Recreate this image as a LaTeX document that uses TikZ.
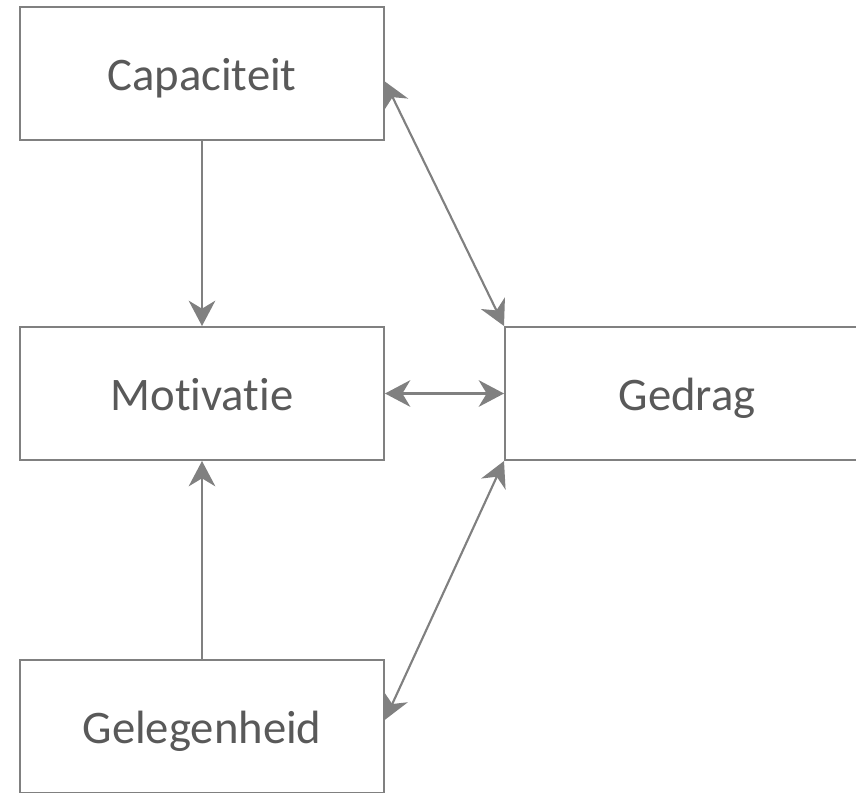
\documentclass[tikz,border=0pt]{standalone}
\usepackage{fontspec}
\setmainfont{Carlito}[Ligatures=NoCommon]
\usepackage{tikz}
\usetikzlibrary{arrows.meta,calc}
\definecolor{lijn}{HTML}{808080}
\definecolor{tekst}{HTML}{595959}

\begin{document}
\begin{tikzpicture}[x=0.75pt, y=-0.75pt,
	blok/.style={draw=lijn, line width=1.5pt, fill=white, minimum width=273pt, minimum height=99.75pt,
		text=tekst, font=\fontsize{35}{42}\selectfont, text height=30pt, text depth=5pt},
	pijl/.style={draw=lijn, line width=1.6pt, -{Stealth[length=19pt, width=20pt, inset=6pt]}},
	dubbel/.style={pijl, {Stealth[length=19pt, width=20pt, inset=6pt]}-{Stealth[length=19pt, width=20pt, inset=6pt]}}]
			\useasboundingbox (0, 0) rectangle (856, 792);
			\clip (0, 0) rectangle (856, 792);
			
			\node[blok] (cap) at (202, 73.5) {Capaciteit};
			\node[blok] (mot) at (202, 393.5) {Motivatie};
			\node[blok] (gel) at (202, 726.5) {Gelegenheid};
			\node[blok] (ged) at (687, 393.5) {Gedrag};
			
			\coordinate (capR) at ($(cap.north east)!0.56!(cap.south east)$);
			\coordinate (gelR) at ($(gel.north east)!0.45!(gel.south east)$);
			
			\draw[pijl] (cap) -- (mot);
			\draw[pijl] (gel) -- (mot);
			\draw[dubbel] (mot) -- (ged);
			\draw[dubbel] (capR) -- (ged.north west);
			\draw[dubbel] (gelR) -- (ged.south west);
		\end{tikzpicture}
\end{document}
